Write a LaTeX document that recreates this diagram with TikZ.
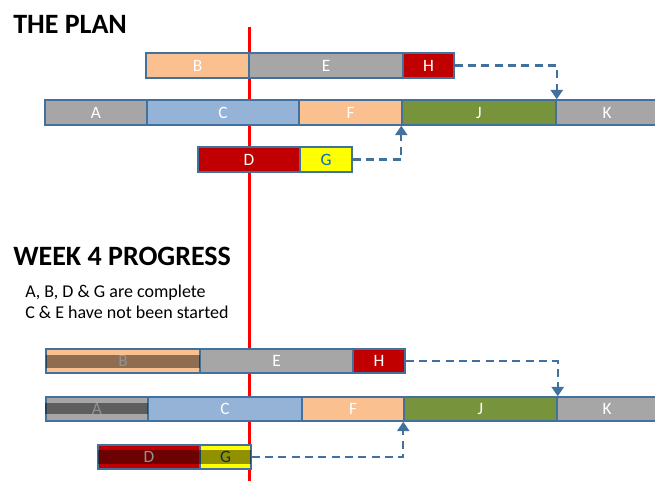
\documentclass[tikz,border=0pt]{standalone}
\usepackage{fontspec}
\setmainfont{Carlito}
\usetikzlibrary{fit,arrows.meta}
\definecolor{edgeblue}{HTML}{41719C}
\definecolor{peach}{HTML}{FAC090}
\definecolor{midgray}{HTML}{A6A6A6}
\definecolor{skyblue}{HTML}{95B3D7}
\definecolor{darkred}{HTML}{C00000}
\definecolor{olivegreen}{HTML}{77933C}
\definecolor{gyellow}{HTML}{FFFF00}
\definecolor{gblue}{HTML}{0070C0}
\definecolor{gdark}{HTML}{1F4E70}
\begin{document}
\begin{tikzpicture}[x=0.75pt,y=-0.75pt,
  bar/.style={draw=edgeblue, line width=1.1pt, inner sep=0pt},
  lab/.style={inner sep=0pt, text=white, font=\fontsize{13}{15}\selectfont},
  dep/.style={draw=edgeblue, line width=1.7pt, dash pattern=on 6pt off 4pt,
    -{Triangle[width=9pt,length=7pt]}},
  band/.style={fill=black, opacity=0.43},
  head/.style={anchor=base west, inner sep=0pt, font=\fontsize{21}{24}\selectfont\bfseries},
  note/.style={anchor=base west, inner sep=0pt, font=\fontsize{13.5}{16}\selectfont}]
\clip (0,0) rectangle (655,480);
\fill[white] (0,0) rectangle (655,480);
% red time line
\draw[red, line width=1.6pt] (249.5,27) coordinate (lt) -- (249.5,482) coordinate (lb);
% ---------------- THE PLAN
\node[head] (t1) at (13,33) {THE PLAN};
\node[bar, fill=peach, fit={(146,53) (249,78)}] (B) {};
\node[bar, fill=midgray, fit={(249,53) (403,78)}] (E) {};
\node[bar, fill=darkred, fit={(403,53) (454,78)}] (H) {};
\node[bar, fill=midgray, fit={(45,100) (147,125)}] (A) {};
\node[bar, fill=skyblue, fit={(147,100) (299,125)}] (C) {};
\node[bar, fill=peach, fit={(299,100) (402,125)}] (F) {};
\node[bar, fill=olivegreen, fit={(402,100) (556,125)}] (J) {};
\node[bar, fill=midgray, fit={(556,100) (660,125)}] (K) {};
\node[bar, fill=darkred, fit={(198,147) (300,172)}] (D) {};
\node[bar, fill=gyellow, fit={(300,147) (352,172)}] (G) {};
\foreach \n in {B,E,H,A,C,F,J,D} \node[lab] (l\n) at (\n.center) {\n};
\node[lab] (lK) at (607,112.5) {K};
\node[lab, text=gblue] (lG) at (G.center) {G};
\draw[dep] (H.east) -| (J.north east);
\draw[dep] (G.east) -| (J.south west);
% ---------------- WEEK 4 PROGRESS
\node[head] (t2) at (13,265) {WEEK 4 PROGRESS};
\node[note] (n1) at (25,297) {A, B, D \& G are complete};
\node[note] (n2) at (25,318) {C \& E have not been started};
\node[bar, fill=peach, fit={(46,349) (200,373)}] (B2) {};
\node[bar, fill=midgray, fit={(200,349) (353,373)}] (E2) {};
\node[bar, fill=darkred, fit={(353,349) (405,373)}] (H2) {};
\node[bar, fill=midgray, fit={(46,397) (148,421)}] (A2) {};
\node[bar, fill=skyblue, fit={(148,397) (302,421)}] (C2) {};
\node[bar, fill=peach, fit={(302,397) (404,421)}] (F2) {};
\node[bar, fill=olivegreen, fit={(404,397) (557,421)}] (J2) {};
\node[bar, fill=midgray, fit={(557,397) (660,421)}] (K2) {};
\node[bar, fill=darkred, fit={(98,445) (200,469)}] (D2) {};
\node[bar, fill=gyellow, fit={(200,445) (251,469)}] (G2) {};
\foreach \n in {B,E,H,A,C,F,J,D} \node[lab] (m\n) at (\n2.center) {\n};
\node[lab] (mK) at (607,409) {K};
\node[lab, text=gdark] (mG) at (G2.center) {G};
% completion overlays
\fill[band] (46,355) rectangle (200,368);
\fill[band] (45,403) rectangle (148,414);
\fill[band] (98,450) rectangle (200,464);
\fill[band] (200,450) rectangle (251,464);
\draw[dep] (H2.east) -| (J2.north east);
\draw[dep] (G2.east) -| (J2.south west);
\end{tikzpicture}
\end{document}
